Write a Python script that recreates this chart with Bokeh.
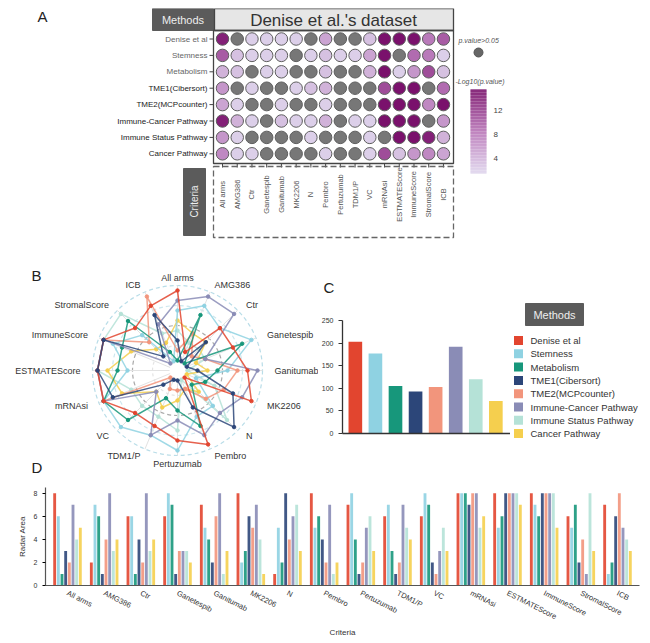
import math
from bokeh.plotting import figure
from bokeh.models import Range1d, FactorRange, ColumnDataSource, Title
from bokeh.layouts import column, row
from bokeh.transform import dodge
from bokeh.core.properties import value
from bokeh.embed import file_html
from bokeh.resources import INLINE

FONT = "Liberation Sans"

# ---------------- data ----------------
methods = ["Denise et al", "Stemness", "Metabolism", "TME1(Cibersort)",
           "TME2(MCPcounter)", "Immune-Cancer Pathway", "Immune Status Pathway",
           "Cancer Pathway"]
method_colors = ["#e2452f", "#8fd2e2", "#17977b", "#2c4679",
                 "#f2957c", "#8a8cb6", "#b5e2d7", "#f5cf4e"]
criteria = ["All arms", "AMG386", "Ctr", "Ganetespib", "Ganitumab", "MK2206",
            "N", "Pembro", "Pertuzumab", "TDM1/P", "VC", "mRNAsi",
            "ESTMATEScore", "ImmuneScore", "StromalScore", "ICB"]

# Panel A: -Log10(p.value); 0 marks p.value>0.05
logp_denise = [14, 0, 2, 2, 2, 2, 0, 5, 0, 0, 3, 15, 15, 15, 8, 10]
logp_stemness = [10, 3, 2, 2, 2, 0, 2, 3, 2, 2, 5, 15, 0, 9, 8, 2]
logp_metabolism = [4, 3, 0, 2, 2, 0, 0, 3, 0, 0, 4, 15, 2, 6, 11, 3]
logp_tme1 = [6, 0, 2, 0, 0, 2, 3, 4, 0, 0, 0, 11, 15, 15, 0, 9]
logp_tme2 = [5, 2, 0, 0, 2, 0, 0, 2, 0, 0, 0, 15, 15, 15, 7, 15]
logp_immune_cancer = [14, 4, 2, 0, 3, 2, 2, 4, 0, 2, 2, 15, 15, 15, 0, 6]
logp_immune_status = [6, 2, 0, 0, 0, 0, 2, 0, 0, 0, 2, 0, 15, 15, 14, 4]
logp_cancer = [7, 2, 2, 0, 0, 0, 0, 2, 0, 0, 2, 11, 3, 6, 7, 5]
colorbar_ticks = [4, 8, 12]

# Panels B and D: radar area per criteria
area_denise = [8, 2, 6, 6, 7, 8, 1, 8, 7, 6, 6, 8, 8, 8, 6, 7]
area_stemness = [6, 7, 6, 8, 5, 2, 5, 5, 8, 7, 8, 8, 5, 7, 5, 1]
area_metabolism = [1, 6, 1, 7, 4, 3, 2, 6, 4, 3, 7, 8, 6, 6, 7, 2]
area_tme1 = [3, 1, 4, 1, 2, 6, 8, 4, 1, 1, 2, 7, 8, 8, 2, 6]
area_tme2 = [2, 4, 2, 3, 6, 5, 4, 2, 2, 2, 1, 8, 8, 8, 4, 8]
area_immune_cancer = [7, 8, 8, 3, 8, 7, 6, 7, 5, 7, 3, 8, 8, 8, 1, 5]
area_immune_status = [4, 3, 3, 3, 1, 4, 7, 1, 6, 5, 5, 5, 8, 8, 8, 4]
area_cancer = [5, 4, 4, 2, 3, 1, 3, 2, 3, 4, 3, 6, 7, 5, 3, 3]

# Panel C: total radar area
total_area = [203, 177, 105, 93, 103, 192, 120, 72]
c_ticks = [0, 50, 100, 150, 200, 250]
d_ticks = [0, 2, 4, 6, 8]

logp_rows = [logp_denise, logp_stemness, logp_metabolism, logp_tme1, logp_tme2,
             logp_immune_cancer, logp_immune_status, logp_cancer]
area_rows = [area_denise, area_stemness, area_metabolism, area_tme1, area_tme2,
             area_immune_cancer, area_immune_status, area_cancer]

GREY_DOT = "#777777"


def purple(v):
    t = min(max((v - 1.5) / 13.5, 0.0), 1.0)
    lo, mid, hi = (223, 214, 237), (184, 118, 184), (122, 17, 108)
    if t < 0.5:
        a, b, s = lo, mid, t / 0.5
    else:
        a, b, s = mid, hi, (t - 0.5) / 0.5
    return "#%02x%02x%02x" % tuple(int(round(a[i] + (b[i] - a[i]) * s)) for i in range(3))


def bare(p):
    p.toolbar.logo = None
    p.grid.visible = False
    p.outline_line_color = None
    p.background_fill_color = "white"
    p.border_fill_color = "white"
    p.frame_align = False
    return p


# ---------------- Panel A ----------------
def ax(px):
    return (px - 222.0) / 14.73


def ay(py):
    return (py - 38.5) / 16.4


pA = bare(figure(width=634, height=245, output_backend="svg", toolbar_location=None,
                 x_range=Range1d(ax(8), ax(642)), y_range=Range1d(ay(253), ay(8)),
                 x_axis_location=None, y_axis_location=None, min_border=0))

pA.text(x=[ax(37)], y=[ay(16)], text=["A"], text_font=value(FONT), text_font_size="15px",
        text_color="#222", text_baseline="middle", text_align="left")
# header boxes
pA.quad(left=[ax(152)], right=[ax(213)], top=[ay(8)], bottom=[ay(30)],
        fill_color="#5b5b5b", line_color="#5b5b5b")
pA.text(x=[ax(182.5)], y=[ay(19)], text=["Methods"], text_font=value(FONT),
        text_font_size="11px", text_color="#eeeeee", text_align="center", text_baseline="middle")
pA.quad(left=[ax(214)], right=[ax(453)], top=[ay(8)], bottom=[ay(30)],
        fill_color="#e6e6e6", line_color="#444444", line_width=1.3)
pA.text(x=[ax(333)], y=[ay(19.5)], text=["Denise et al.'s dataset"], text_font=value(FONT),
        text_font_size="17px", text_color="#333", text_align="center", text_baseline="middle")
# matrix frame
pA.quad(left=[ax(213)], right=[ax(453)], top=[ay(30)], bottom=[ay(163)],
        fill_color=None, line_color="#444444", line_width=1.3)
rows_idx = list(range(len(methods)))
cols_idx = list(range(len(criteria)))
pA.segment(x0=[ax(209)] * len(rows_idx), x1=[ax(213)] * len(rows_idx), y0=rows_idx, y1=rows_idx,
           line_color="#444", line_width=1)
pA.segment(x0=cols_idx, x1=cols_idx, y0=[ay(163)] * len(cols_idx), y1=[ay(167)] * len(cols_idx),
           line_color="#444", line_width=1)
label_cols = ["#666666"] * 3 + ["#222222"] * 5
pA.text(x=[ax(207)] * len(methods), y=rows_idx, text=methods, text_font=value(FONT),
        text_font_size="8px", text_color=label_cols, text_align="right", text_baseline="middle")
xs, ys, fc = [], [], []
for r, vals in enumerate(logp_rows):
    for c, v in enumerate(vals):
        xs.append(c)
        ys.append(r)
        fc.append(GREY_DOT if v == 0 else purple(v))
pA.scatter(x=xs, y=ys, size=12.5, fill_color=fc, line_color="#5e5e5e", line_width=1)
# criteria box
pA.quad(left=[ax(213)], right=[ax(453)], top=[ay(166)], bottom=[ay(237)],
        fill_color=None, line_color="#666", line_width=1.3, line_dash="6 3")
pA.quad(left=[ax(183)], right=[ax(205)], top=[ay(168)], bottom=[ay(235)],
        fill_color="#5b5b5b", line_color="#5b5b5b")
pA.text(x=[ax(194)], y=[ay(201)], text=["Criteria"], angle=math.pi / 2, text_font=value(FONT),
        text_font_size="10px", text_color="#eeeeee", text_align="center", text_baseline="middle")
pA.text(x=cols_idx, y=[ay(194)] * len(cols_idx), text=criteria, angle=math.pi / 2,
        text_font=value(FONT), text_font_size="7.5px", text_color="#555",
        text_align="center", text_baseline="middle")
# legend
pA.text(x=[ax(458)], y=[ay(40)], text=["p.value>0.05"], text_font=value(FONT),
        text_font_size="7px", text_font_style="italic", text_color="#555",
        text_align="left", text_baseline="middle")
pA.scatter(x=[ax(478)], y=[ay(52)], size=9, fill_color="#666", line_color="#555")
pA.text(x=[ax(455)], y=[ay(81)], text=["-Log10(p.value)"], text_font=value(FONT),
        text_font_size="7px", text_font_style="italic", text_color="#555",
        text_align="left", text_baseline="middle")
cb_v = [1.5 + 0.1 * i for i in range(141)]
pA.quad(left=[ax(470)] * len(cb_v), right=[ax(486)] * len(cb_v),
        top=[ay(110 + (12 - v - 0.06) * 6) for v in cb_v],
        bottom=[ay(110 + (12 - v + 0.06) * 6) for v in cb_v],
        fill_color=[purple(v) for v in cb_v], line_color=None)
pA.text(x=[ax(493)] * len(colorbar_ticks), y=[ay(110 + (12 - t) * 6) for t in colorbar_ticks],
        text=[str(t) for t in colorbar_ticks], text_font=value(FONT), text_font_size="8px",
        text_color="#444", text_align="left", text_baseline="middle")

# ---------------- Panel B (radar) ----------------
pB = bare(figure(width=310, height=224, output_backend="svg", toolbar_location=None,
                 x_range=Range1d(-16.9, 14.1), y_range=Range1d(-10.7, 11.7),
                 x_axis_location=None, y_axis_location=None, min_border=0))
n = len(criteria)
theta = [2 * math.pi * k / n for k in range(n)]
for R, col, dash in [(2.5, "#e4e4e4", "3 3"), (4.5, "#aaaaaa", "4 3"),
                     (6.5, "#cde7ee", "4 3"), (8.5, "#b9dde8", "4 3")]:
    pB.circle(x=[0], y=[0], radius=R, fill_color=None, line_color=col, line_width=1.2,
              line_dash=dash)
pB.segment(x0=[0.8 * math.sin(t) for t in theta], y0=[0.8 * math.cos(t) for t in theta],
           x1=[8.5 * math.sin(t) for t in theta], y1=[8.5 * math.cos(t) for t in theta],
           line_color="#e2e2e2", line_width=1)
draw_order = [6, 7, 1, 4, 2, 5, 0, 3]
for j in draw_order:
    vals = area_rows[j]
    px_ = [v * math.sin(t) for v, t in zip(vals, theta)]
    py_ = [v * math.cos(t) for v, t in zip(vals, theta)]
    pB.line(px_ + px_[:1], py_ + py_[:1], line_color=method_colors[j], line_width=1.5,
            line_alpha=0.85)
    pB.scatter(px_, py_, size=3.5, fill_color=method_colors[j], line_color=method_colors[j])
pB.circle(x=[0], y=[0], radius=0.7, fill_color="white", line_color=None)
lx, ly, la = [], [], []
for t in theta:
    s, c = math.sin(t), math.cos(t)
    lx.append(9.7 * s)
    ly.append(9.3 * c)
    la.append("left" if s > 0.2 else ("right" if s < -0.2 else "center"))
pB.text(x=lx, y=ly, text=criteria, text_align=la, text_baseline="middle",
        text_font=value(FONT), text_font_size="9px", text_color="#333")
pB.text(x=[-14.6, -14.6], y=[9.5, -9.7], text=["B", "D"], text_font=value(FONT),
        text_font_size="15px", text_color="#222", text_baseline="middle")

# ---------------- Panel C (bars) ----------------
c_pos = list(range(len(methods)))
pC = bare(figure(width=192, height=224, output_backend="svg", toolbar_location=None,
                 x_range=Range1d(-0.64, 7.73), y_range=Range1d(0, 250),
                 min_border_left=22, min_border_right=0, min_border_top=67, min_border_bottom=44))
pC.vbar(x=c_pos, top=total_area, width=0.68, fill_color=method_colors, line_color=None)
pC.yaxis.ticker = c_ticks
pC.yaxis.major_label_text_font_size = "7px"
pC.yaxis.major_label_text_font = FONT
pC.yaxis.major_label_text_color = "#333"
pC.yaxis.axis_line_color = "#333"
pC.yaxis.axis_line_width = 1.3
pC.yaxis.major_tick_line_color = "#333"
pC.yaxis.major_tick_in = 0
pC.yaxis.major_tick_out = 4
pC.yaxis.minor_tick_line_color = None
pC.xaxis.ticker = []
pC.xaxis.axis_line_color = "#333"
pC.xaxis.axis_line_width = 1.3
pC.xaxis.major_tick_line_color = None
pC.xaxis.minor_tick_line_color = None
pC.title = Title(text="C", align="left", vertical_align="top", text_font_size="15px",
                 text_font_style="normal", text_font=FONT, text_color="#222",
                 offset=-19, standoff=46)

# ---------------- Panel C legend ----------------
def ly_(py):
    return (py - 340.0) / 13.3


pL = bare(figure(width=132, height=224, output_backend="svg", toolbar_location=None,
                 x_range=Range1d(0, 132), y_range=Range1d(ly_(477), ly_(253)),
                 x_axis_location=None, y_axis_location=None, min_border=0))
pL.quad(left=[15], right=[73], top=[ly_(303)], bottom=[ly_(325)], fill_color="#5b5b5b",
        line_color="#5b5b5b")
pL.text(x=[44], y=[ly_(314)], text=["Methods"], text_font=value(FONT), text_font_size="11px",
        text_color="#eeeeee", text_align="center", text_baseline="middle")
idx = list(range(len(methods)))
pL.scatter(x=[8] * len(idx), y=idx, marker="square", size=9, fill_color=method_colors,
           line_color=None)
pL.text(x=[20] * len(idx), y=idx, text=methods, text_font=value(FONT), text_font_size="9.5px",
        text_color="#333", text_align="left", text_baseline="middle")

# ---------------- Panel D (grouped bars) ----------------
pD = bare(figure(width=634, height=163, output_backend="svg", toolbar_location=None,
                 x_range=FactorRange(*criteria, range_padding=0.1, range_padding_units="absolute"),
                 y_range=Range1d(0, 8.5),
                 min_border_left=37, min_border_right=3, min_border_top=10, min_border_bottom=45))
srcD = ColumnDataSource(dict(criteria=criteria, **{"m%d" % j: area_rows[j] for j in range(8)}))
for j in range(8):
    pD.vbar(x=dodge("criteria", (j - 3.5) * 0.1, range=pD.x_range), top="m%d" % j,
            width=0.078, source=srcD, fill_color=method_colors[j], line_color=None,
            fill_alpha=0.9)
pD.yaxis.ticker = d_ticks
for a in (pD.xaxis[0], pD.yaxis[0]):
    a.axis_line_color = "#555"
    a.axis_line_width = 1.2
    a.major_label_text_font = FONT
    a.major_label_text_color = "#333"
    a.axis_label_text_font = FONT
    a.axis_label_text_font_style = "normal"
    a.axis_label_text_font_size = "8px"
    a.axis_label_text_color = "#333"
pD.yaxis.major_label_text_font_size = "7px"
pD.yaxis.major_tick_in = 0
pD.yaxis.major_tick_out = 3
pD.yaxis.minor_tick_line_color = None
pD.yaxis.axis_label = "Radar Area"
pD.yaxis.axis_label_standoff = 4
pD.xaxis.major_tick_line_color = None
pD.xaxis.major_label_text_font_size = "7.5px"
pD.xaxis.major_label_orientation = -0.47
pD.xaxis.major_label_standoff = 1
pD.xaxis.axis_label = "Criteria"
pD.xaxis.axis_label_standoff = 0

layout = column(pA, row(pB, pC, pL), pD, margin=(8, 0, 0, 8))
open("out.html", "w").write(file_html(layout, INLINE))
